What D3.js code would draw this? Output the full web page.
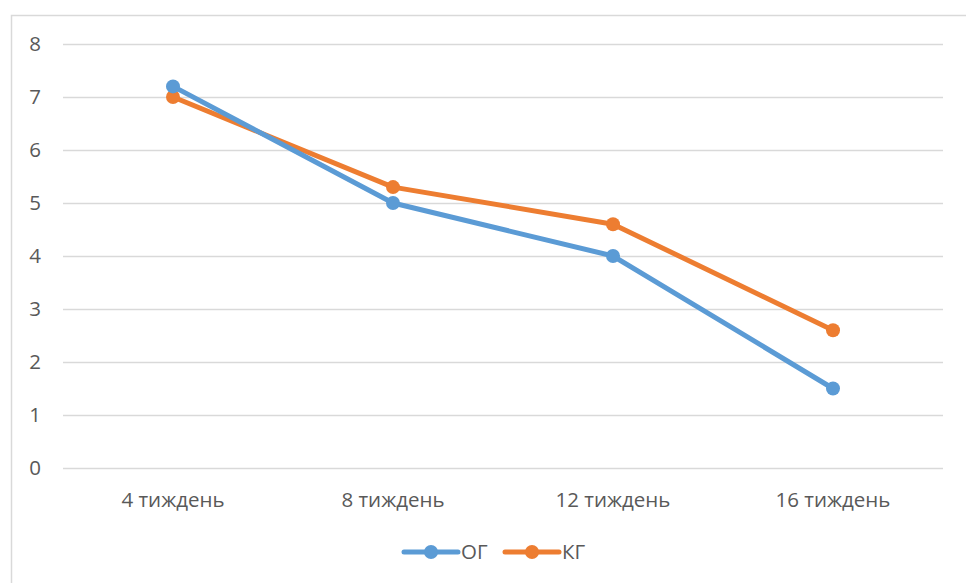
<!DOCTYPE html>
<html>
<head>
<meta charset="utf-8">
<script src="https://cdn.jsdelivr.net/npm/d3@7"></script>
<style>
  html, body { margin: 0; padding: 0; background: #fff; }
  svg { display: block; }
  text { font-family: "Open Sans", "Noto Sans", sans-serif; fill: #595959; }
</style>
</head>
<body>
<svg id="chart" width="966" height="583"></svg>
<script>
const categories = ["4 тиждень", "8 тиждень", "12 тиждень", "16 тиждень"];
const seriesNames = ["ОГ", "КГ"];
const ogValues = [7.2, 5.0, 4.0, 1.5];
const kgValues = [7.0, 5.3, 4.6, 2.6];
const yTicks = [0, 1, 2, 3, 4, 5, 6, 7, 8];
const colors = ["#5b9bd5", "#ed7d31"];

const svg = d3.select("#chart");
const W = 966, H = 583;
const FONT = '"Open Sans", "Noto Sans", sans-serif';
const FS = 20.5;

// outer chart frame
svg.append("rect")
  .attr("x", 11.5).attr("y", 15.5)
  .attr("width", W + 10).attr("height", H + 10)
  .attr("fill", "none").attr("stroke", "#d9d9d9").attr("stroke-width", 1.5);

const plot = { left: 63, right: 943, top: 44, bottom: 468 };

const x = d3.scaleBand().domain(categories).range([plot.left, plot.right]);
const y = d3.scaleLinear().domain([0, 8]).range([plot.bottom, plot.top]);

// horizontal gridlines
svg.append("g").selectAll("line").data(yTicks).join("line")
  .attr("x1", plot.left).attr("x2", plot.right)
  .attr("y1", d => Math.round(y(d)) + 0.5).attr("y2", d => Math.round(y(d)) + 0.5)
  .attr("stroke", "#d9d9d9").attr("stroke-width", 1.5);

// y axis labels
const yAxis = d3.axisLeft(y).tickValues(yTicks).tickSize(0).tickPadding(0);
const gy = svg.append("g").attr("transform", `translate(41,0)`).call(yAxis);
gy.select(".domain").remove();
gy.selectAll("text").attr("font-size", FS).style("fill", "#595959")
  .style("font-family", FONT);

// x axis labels
const xAxis = d3.axisBottom(x).tickSize(0).tickPadding(0);
const gx = svg.append("g").attr("transform", `translate(0,${plot.bottom + 24})`).call(xAxis);
gx.select(".domain").remove();
gx.selectAll("text").attr("font-size", FS).style("fill", "#595959")
  .style("font-family", FONT);

const cx = d => x(d) + x.bandwidth() / 2;
const line = d3.line().x(d => cx(d.cat)).y(d => y(d.v));

const series = [ogValues, kgValues].map((vals, i) => ({
  name: seriesNames[i], color: colors[i],
  points: categories.map((c, j) => ({ cat: c, v: vals[j] }))
}));

// КГ drawn first so ОГ sits above it
series.slice().reverse().forEach(s => {
  const g = svg.append("g");
  g.append("path").datum(s.points)
    .attr("d", line).attr("fill", "none")
    .attr("stroke", s.color).attr("stroke-width", 5)
    .attr("stroke-linejoin", "round");
  g.selectAll("circle").data(s.points).join("circle")
    .attr("cx", d => cx(d.cat)).attr("cy", d => y(d.v))
    .attr("r", 7).attr("fill", s.color);
});

// legend
const legend = svg.append("g").attr("transform", "translate(0,552)");
const legendX = [404, 505];
series.forEach((s, i) => {
  const lg = legend.append("g").attr("transform", `translate(${legendX[i]},0)`);
  lg.append("line").attr("x1", 0).attr("x2", 54).attr("y1", 0).attr("y2", 0)
    .attr("stroke", s.color).attr("stroke-width", 5).attr("stroke-linecap", "round");
  lg.append("circle").attr("cx", 27).attr("cy", 0).attr("r", 7).attr("fill", s.color);
  lg.append("text").attr("x", 57).attr("y", 0).attr("dy", "0.35em")
    .attr("font-size", FS).text(s.name);
});
</script>
</body>
</html>
